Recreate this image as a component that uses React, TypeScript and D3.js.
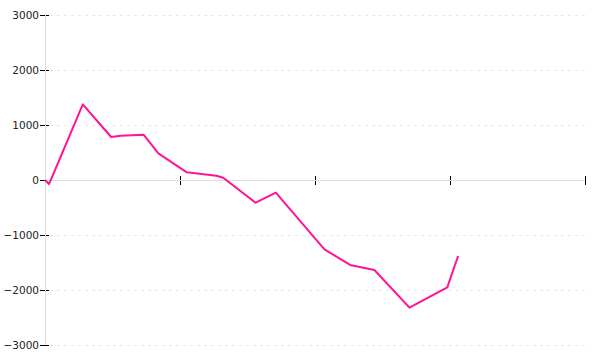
import React from "react";
import * as d3 from "d3";

const xValues = [0, 0.3, 2.8, 4.9, 5.6, 7.3, 8.4, 10.5, 12.7, 13.2, 15.6, 17.1, 20.7, 22.6, 24.4, 27.0, 29.8, 30.6];
const yValues = [0, -73, 1376, 782, 805, 824, 485, 140, 78, 42, -412, -230, -1260, -1545, -1636, -2321, -1951, -1382];
const yTicks = [-3000, -2000, -1000, 0, 1000, 2000, 3000];
const xTicks = [0, 10, 20, 30, 40];

export default function App() {
  const W = 600, H = 360;
  const x = d3.scaleLinear().domain([0, 40]).range([45, 585]);
  const y = d3.scaleLinear().domain([-3000, 3000]).range([345, 15]);
  const pts = xValues.map((v, i) => [v, yValues[i]] as [number, number]);
  const line = d3.line<[number, number]>().x(d => x(d[0])).y(d => y(d[1]));
  const x0 = x(0), y0 = y(0);
  const fmt = (t: number) => String(t).replace("-", "−");
  return (
    <div style={{ position: "fixed", left: 0, top: 0 }}>
      <svg width={W} height={H} style={{ display: "block" }} fontFamily="DejaVu Sans" fontSize={10.5}>
        <rect width={W} height={H} fill="#fff" />
        {yTicks.filter(t => t !== 0).map(t => (
          <line key={"g" + t} x1={x0 + 5} x2={x(40)} y1={Math.round(y(t)) + 0.5} y2={Math.round(y(t)) + 0.5}
            stroke="#e8e8e8" strokeDasharray="3,4" />
        ))}
        {yTicks.map(t => (
          <g key={"yt" + t}>
            <line x1={x0 - 5} x2={x0 + 4} y1={Math.round(y(t)) + 0.5} y2={Math.round(y(t)) + 0.5} stroke="#000" />
            <text x={x0 - 6} y={y(t)} dy="0.35em" textAnchor="end" fill="#222">{fmt(t)}</text>
          </g>
        ))}
        {xTicks.map(t => (
          <line key={"xt" + t} x1={Math.round(x(t)) + 0.5} x2={Math.round(x(t)) + 0.5} y1={y0 - 4} y2={y0 + 5} stroke="#000" />
        ))}
        <line x1={x0 + 0.5} x2={x0 + 0.5} y1={y(3000)} y2={y(-3000)} stroke="#dcdcdc" />
        <line x1={x0} x2={x(40)} y1={y0 + 0.5} y2={y0 + 0.5} stroke="#dcdcdc" />
        <path d={line(pts) || ""} fill="none" stroke="#ff1493" strokeWidth={2} strokeLinejoin="round" />
      </svg>
    </div>
  );
}
